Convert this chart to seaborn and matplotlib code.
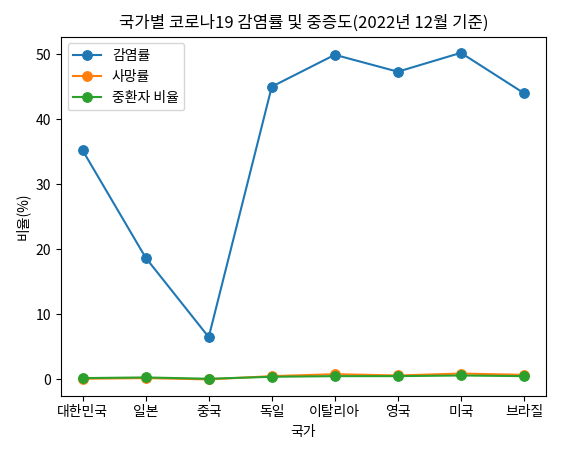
import matplotlib.pyplot as plt
import pandas as pd
import seaborn as sns

plt.rcParams['font.family'] = ['Noto Sans CJK KR', 'DejaVu Sans']
plt.rcParams['axes.unicode_minus'] = False

countries = ['대한민국', '일본', '중국', '독일', '이탈리아', '영국', '미국', '브라질']
infection = [35.2, 18.7, 6.5, 45.0, 49.9, 47.3, 50.2, 44.0]
death = [0.1, 0.2, 0.0, 0.5, 0.8, 0.6, 0.9, 0.7]
severe = [0.2, 0.3, 0.1, 0.4, 0.5, 0.5, 0.6, 0.5]

df = pd.DataFrame({'국가': countries, '감염률': infection, '사망률': death, '중환자 비율': severe})
long = df.melt(id_vars='국가', var_name='지표', value_name='비율(%)')

fig, ax = plt.subplots(figsize=(5.61, 4.54), dpi=100)
for name in ['감염률', '사망률', '중환자 비율']:
    sub = long[long['지표'] == name]
    sns.lineplot(data=sub, x='국가', y='비율(%)', marker='o', markeredgecolor=None,
                 markersize=7, label=name, ax=ax, sort=False)
ax.set_title('국가별 코로나19 감염률 및 중증도(2022년 12월 기준)')
ax.legend(loc='upper left')
plt.tight_layout()
plt.savefig('out.png', dpi=100)
